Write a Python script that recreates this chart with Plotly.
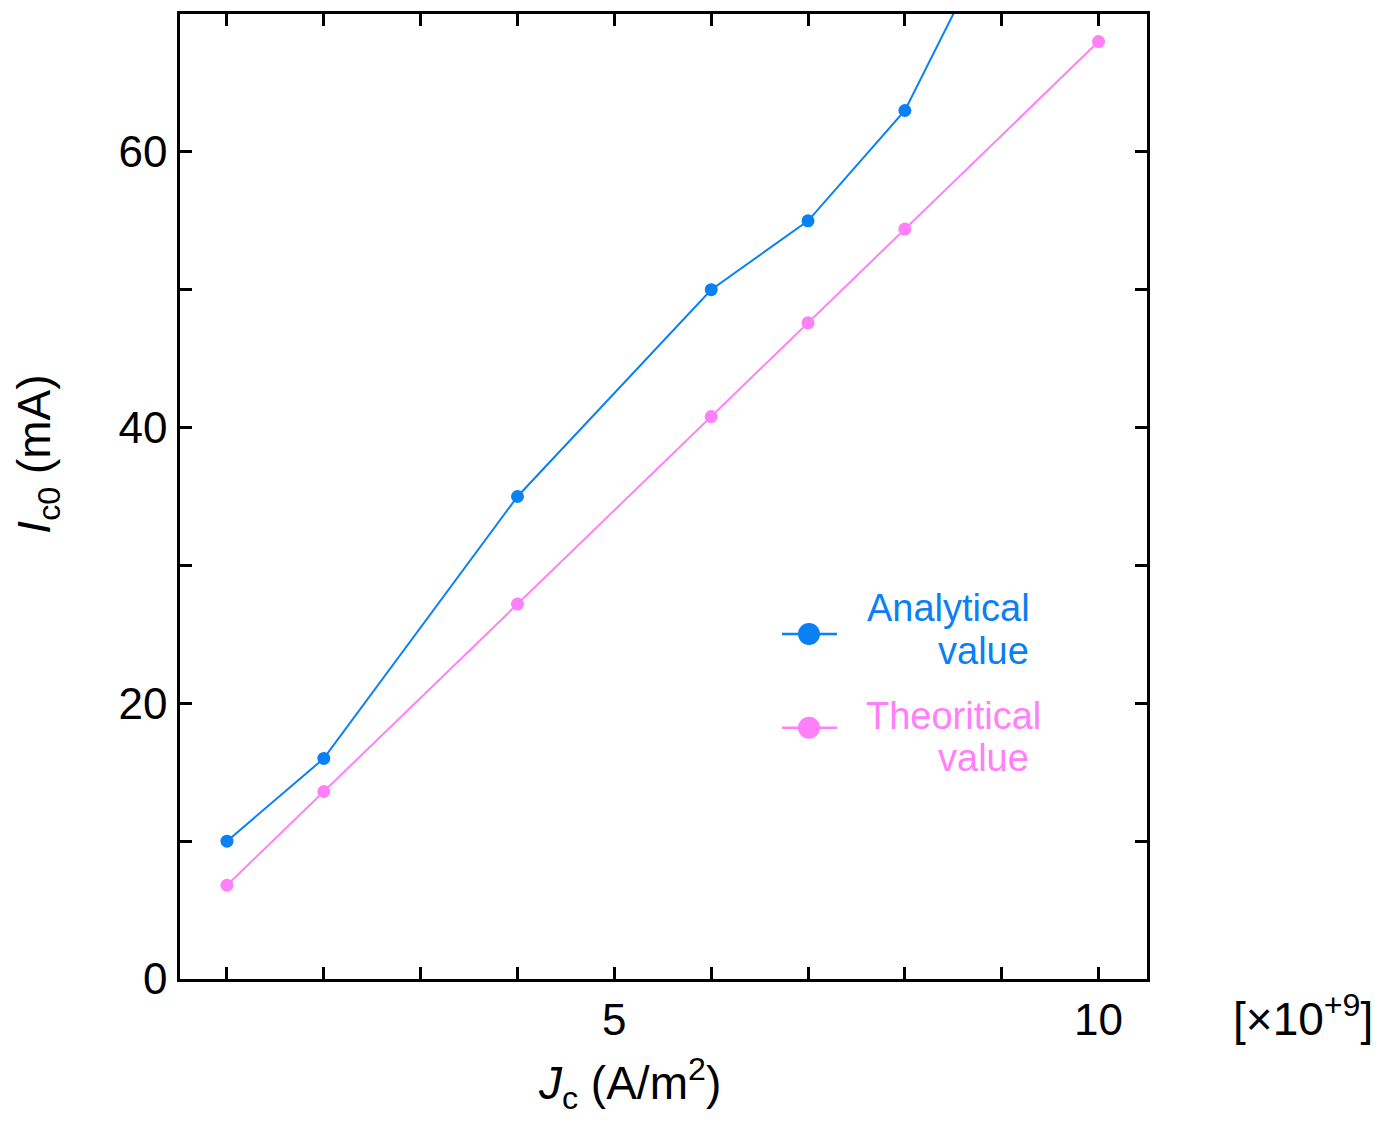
import plotly.graph_objects as go

# Critical current density (x 1e9 A/m^2) vs critical current I_c0 (mA)
jc_analytical = [1, 2, 4, 6, 7, 8, 9]
ic_analytical = [10, 16, 35, 50, 55, 63, 77]

jc_theoretical = [1, 2, 4, 6, 7, 8, 10]
ic_theoretical = [6.8, 13.6, 27.2, 40.8, 47.6, 54.4, 68.0]

x_tick_vals = [1, 2, 3, 4, 5, 6, 7, 8, 9, 10]
x_tick_text = ["", "", "", "", "5", "", "", "", "", "10"]
y_tick_vals = [0, 10, 20, 30, 40, 50, 60]
y_tick_text = ["0", "", "20", "", "40", "", "60"]

BLUE = "#0A80F5"
PINK = "#FF80F8"
FONT = "Liberation Sans, Arial, sans-serif"

L, R, T, B = 180, 247, 11, 143
W, H = 1394 - L - R, 1122 - T - B


def px(x):
    return (x - L) / W


def py(y):
    return (1122 - B - y) / H


fig = go.Figure()
fig.add_trace(go.Scatter(x=jc_analytical, y=ic_analytical, mode="lines+markers",
                         line=dict(color=BLUE, width=2), marker=dict(color=BLUE, size=13),
                         showlegend=False, cliponaxis=True))
fig.add_trace(go.Scatter(x=jc_theoretical, y=ic_theoretical, mode="lines+markers",
                         line=dict(color=PINK, width=2), marker=dict(color=PINK, size=13),
                         showlegend=False, cliponaxis=False))

axis_common = dict(showline=True, linecolor="black", linewidth=2.5, mirror="ticks",
                   ticks="inside", ticklen=12, tickwidth=2.5, tickcolor="black",
                   showgrid=False, zeroline=False,
                   tickfont=dict(family=FONT, size=44, color="black"))

fig.update_xaxes(range=[0.515, 10.5], tickmode="array", tickvals=x_tick_vals,
                 ticktext=x_tick_text, ticklabelstandoff=0, **axis_common)
fig.update_yaxes(range=[0, 70], tickmode="array", tickvals=y_tick_vals,
                 ticktext=y_tick_text, ticklabelstandoff=1, **axis_common)


# Legend glyphs (paper coordinates) and labels
def legend_entry(gy, lines, color):
    fig.add_shape(type="line", xref="paper", yref="paper",
                  x0=px(782), x1=px(837), y0=py(gy), y1=py(gy),
                  line=dict(color=color, width=2.5))
    r = 11
    fig.add_shape(type="circle", xref="paper", yref="paper",
                  x0=px(809 - r), x1=px(809 + r), y0=py(gy + r), y1=py(gy - r),
                  fillcolor=color, line=dict(color=color, width=0))
    for tx, anchor, ty, text in lines:
        fig.add_annotation(xref="paper", yref="paper", x=px(tx), y=py(ty),
                           xanchor=anchor, yanchor="middle", showarrow=False,
                           text=text, font=dict(family=FONT, size=38, color=color))


legend_entry(633, [(865, "left", 607, "Analytical"), (1031, "right", 650, "value")], BLUE)
legend_entry(727, [(864, "left", 715, "Theoritical"), (1031, "right", 757, "value")], PINK)

fig.add_annotation(xref="paper", yref="paper", x=px(629), y=py(1084),
                   xanchor="center", yanchor="middle", showarrow=False,
                   text="<i>J</i><sub>c</sub> (A/m<sup>2</sup>)",
                   font=dict(family=FONT, size=46, color="black"))
fig.add_annotation(xref="paper", yref="paper", x=px(38), y=py(453),
                   xanchor="center", yanchor="middle", showarrow=False, textangle=-90,
                   text="<i>I</i><sub>c0</sub> (mA)",
                   font=dict(family=FONT, size=46, color="black"))
fig.add_annotation(xref="paper", yref="paper", x=px(1303), y=py(1016),
                   xanchor="center", yanchor="middle", showarrow=False,
                   text="[×10<sup>+9</sup>]",
                   font=dict(family=FONT, size=46, color="black"))

fig.update_layout(width=1394, height=1122, autosize=False,
                  margin=dict(l=L, r=R, t=T, b=B),
                  plot_bgcolor="white", paper_bgcolor="white")

fig.write_html("out.html")
